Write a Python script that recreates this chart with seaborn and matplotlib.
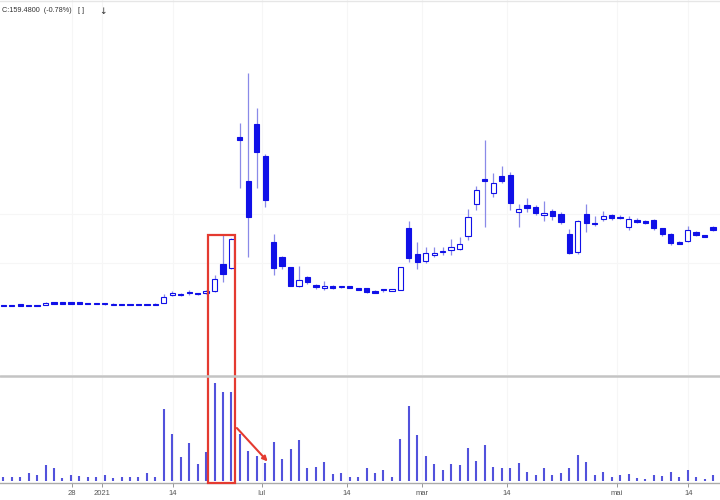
import numpy as np
import pandas as pd
import matplotlib
matplotlib.use("Agg")
import matplotlib.pyplot as plt
import seaborn as sns
from matplotlib.patches import Rectangle, FancyArrowPatch
from matplotlib.lines import Line2D

# ---------------- data ----------------
opens = [15.5, 15.3, 15.6, 15.6, 15.5, 15.6, 20.2, 20.0, 20.1, 20.0, 19.8, 19.6, 18.8, 15.6, 17.6,
         17.4, 17.3, 17.5, 17.6, 19.5, 36.5, 38.5, 41.5, 39.2, 39.2, 44.0, 98.0, 89.0, 355.0, 265.0,
         380.0, 316.0, 141.7, 112.7, 91.3, 53.6, 72.4, 56.3, 49.5, 53.5, 51.0, 52.7, 50.0, 48.9, 43.5,
         48.0, 44.5, 45.5, 170.0, 118.4, 104.6, 116.0, 121.5, 126.0, 129.0, 154.0, 219.0, 269.0, 242.0,
         275.3, 277.0, 204.0, 217.5, 213.5, 197.0, 205.4, 198.0, 158.4, 123.0, 198.0, 181.7, 188.1,
         197.0, 193.0, 172.0, 186.0, 184.0, 186.6, 170.0, 158.0, 143.0, 144.0, 163.0, 156.4, 173.0]
highs = [16.0, 15.8, 16.0, 16.0, 16.0, 20.5, 20.8, 20.6, 20.9, 20.5, 20.3, 20.1, 19.1, 19.2, 18.2,
         18.0, 17.8, 18.0, 18.4, 38.5, 43.0, 40.0, 45.5, 40.0, 44.8, 76.0, 156.0, 150.0, 382.0, 483.0,
         413.0, 321.0, 158.7, 113.5, 91.8, 94.0, 73.0, 57.5, 63.7, 56.0, 54.5, 53.5, 50.5, 49.5, 45.0,
         48.5, 47.0, 92.0, 185.0, 143.0, 133.0, 131.6, 133.0, 147.8, 153.0, 210.0, 255.0, 348.0, 281.0,
         296.0, 284.0, 219.0, 231.0, 218.0, 225.6, 210.0, 203.0, 168.0, 187.0, 219.0, 195.0, 205.0,
         199.0, 196.0, 195.0, 190.0, 186.0, 189.5, 171.0, 160.0, 144.5, 175.0, 165.0, 157.5, 174.0]
lows = [13.3, 13.4, 13.6, 13.2, 13.4, 15.4, 17.6, 17.8, 17.8, 17.6, 17.4, 17.0, 15.8, 14.8, 15.2,
        15.0, 15.0, 15.2, 15.4, 19.3, 34.0, 34.0, 36.5, 36.4, 38.5, 42.0, 62.0, 87.0, 251.0, 112.0,
        251.0, 213.0, 75.0, 87.0, 53.0, 51.0, 58.0, 47.0, 46.5, 48.0, 48.8, 49.0, 45.0, 40.5, 40.0,
        42.0, 43.0, 44.7, 102.6, 87.3, 100.6, 112.7, 116.0, 116.0, 126.0, 146.0, 208.0, 173.0, 234.0,
        261.0, 208.0, 173.0, 204.0, 197.5, 185.3, 187.6, 178.0, 118.0, 118.0, 163.0, 175.0, 185.0,
        187.7, 188.0, 166.0, 180.0, 178.0, 166.0, 155.0, 136.0, 137.5, 143.0, 155.0, 152.0, 165.0]
closes = [13.6, 13.6, 13.9, 13.6, 13.8, 19.2, 18.2, 18.0, 18.1, 17.9, 17.8, 17.4, 16.5, 18.0, 15.6,
          15.4, 15.3, 15.5, 15.8, 31.2, 39.9, 35.5, 39.4, 37.6, 43.0, 67.0, 78.0, 148.0, 348.0, 193.5,
          324.0, 227.0, 91.0, 94.0, 53.6, 65.0, 61.0, 52.3, 53.5, 49.8, 52.4, 49.5, 46.0, 42.0, 40.5,
          45.8, 46.0, 91.3, 109.5, 102.6, 121.0, 119.5, 125.0, 133.0, 138.0, 193.0, 247.0, 266.0, 261.0,
          265.0, 221.6, 209.5, 211.0, 201.4, 201.4, 195.3, 182.0, 120.8, 185.3, 180.0, 179.0, 195.0,
          191.4, 190.6, 188.0, 183.0, 180.0, 170.0, 158.4, 141.0, 139.0, 166.5, 156.4, 153.0, 166.5]
volumes = [7.3, 7.3, 8.5, 16.4, 11.9, 31.7, 26.4, 5.9, 11.9, 10.5, 8.5, 8.5, 11.9, 5.9, 7.3,
           7.3, 8.5, 15.2, 8.5, 142.6, 93.0, 47.5, 75.0, 33.7, 57.4, 194.7, 175.6, 175.6, 92.5, 58.8,
           50.0, 35.0, 77.8, 43.0, 62.8, 80.6, 26.3, 27.7, 37.0, 13.3, 15.8, 8.5, 8.5, 25.1, 16.4,
           21.8, 7.3, 83.2, 149.0, 91.0, 50.0, 33.7, 21.8, 33.0, 31.0, 64.7, 40.2, 71.3, 28.3,
           26.3, 25.1, 35.6, 17.2, 12.5, 25.1, 11.3, 15.2, 25.1, 50.9, 37.6, 11.3, 17.8,
           8.5, 11.3, 14.5, 5.9, 4.6, 11.3, 9.9, 17.8, 7.3, 22.4, 8.5, 4.6, 11.3]
tick_pos = [8.13, 11.65, 20.08, 30.58, 40.64, 49.55, 59.58, 72.6, 81.07]
tick_labels = ["28", "2021", "14", "Iul", "14", "mar", "14", "mai", "14"]
header = "C:159.4800  (-0.78%)"

n = len(closes)
df = pd.DataFrame({"idx": np.arange(n), "open": opens, "high": highs,
                   "low": lows, "close": closes, "vol": volumes})
df["up"] = df["close"] >= df["open"]

# ---------------- figure ----------------
sns.set_theme(style="white")
plt.rcParams["font.family"] = ["Liberation Sans", "DejaVu Sans"]

W, H = 720, 500
fig = plt.figure(figsize=(W / 100, H / 100), dpi=100)
fig.patch.set_facecolor("white")

def fx(px):
    return px / W

def fy(py):
    return 1 - py / H

ax_p = fig.add_axes([0, fy(375), 1, 375 / H])
ax_v = fig.add_axes([0, fy(483), 1, 106 / H])

xlim = (-0.39, 84.83)
blue = "#1010e8"
wick = "#8a8ae8"
volc = "#5252dc"
gridc = "#f6f6f6"

# price panel
ax_p.set_xlim(*xlim)
ax_p.set_ylim(-126, 631)
for gx in tick_pos:
    ax_p.axvline(gx, color=gridc, lw=0.8, zorder=0)
for gy in [100, 200]:
    ax_p.axhline(gy, color=gridc, lw=0.8, zorder=0)

ax_p.vlines(df["idx"], df["low"], df["high"], color=wick, lw=0.9, zorder=1)
body_bottom = np.minimum(df["open"], df["close"])
body_h = np.maximum(np.abs(df["close"] - df["open"]), 2.5)
faces = np.where(df["up"], "white", blue)
ax_p.bar(df["idx"], body_h, bottom=body_bottom, width=0.62,
         color=faces, edgecolor=blue, linewidth=0.8, zorder=2)
for s in ax_p.spines.values():
    s.set_visible(False)
ax_p.set_xticks([])
ax_p.set_yticks([])

# volume panel (seaborn draws the bars, then they are thinned to ~2 px sticks)
sns.barplot(data=df, x="idx", y="vol", native_scale=True, width=0.22,
            color=volc, saturation=1, errorbar=None, ax=ax_v, zorder=2,
            linewidth=0)
for p in ax_v.patches:
    p.set_visible(False)
ax_v.vlines(df["idx"], 0, df["vol"], color=volc, lw=1.5, zorder=2)
ax_v.set_xlim(*xlim)
ax_v.set_ylim(-4, 206)
for gx in tick_pos:
    ax_v.axvline(gx, color=gridc, lw=0.8, zorder=0)
ax_v.set_xticks(tick_pos)
ax_v.set_xticklabels(tick_labels, fontsize=5.5, color="#555555")
ax_v.tick_params(axis="x", length=3, width=0.6, color="#888888", pad=2, bottom=True)
ax_v.set_yticks([])
ax_v.set_xlabel("")
ax_v.set_ylabel("")
for k, s in ax_v.spines.items():
    s.set_visible(k == "bottom")
ax_v.spines["bottom"].set_color("#aaaaaa")
ax_v.spines["bottom"].set_linewidth(1.0)
ax_v.patch.set_alpha(0)

# separator and top line
fig.add_artist(Line2D([0, 1], [fy(376), fy(376)], transform=fig.transFigure,
                      color="#c4c4c4", lw=1.8))
fig.add_artist(Line2D([0, 1], [fy(1), fy(1)], transform=fig.transFigure,
                      color="#e6e6e6", lw=1.0))

# header
fig.text(fx(2), fy(11), header, fontsize=5.2, color="#333333", va="center", ha="left")
fig.text(fx(78), fy(11), "[ ]", fontsize=5.2, color="#333333", va="center", ha="left")
fig.text(fx(99), fy(11), "↓", fontsize=6.5, color="#333333", va="center", ha="left",
         family="DejaVu Sans")

# red annotations
red = "#e43a30"
fig.add_artist(Rectangle((fx(208.3), fy(482.7)), fx(235) - fx(208.3), fy(234.5) - fy(482.7),
                         transform=fig.transFigure, fill=False, edgecolor=red, lw=1.6))
fig.add_artist(FancyArrowPatch((fx(235), fy(426)), (fx(269.5), fy(463.5)),
                               transform=fig.transFigure, arrowstyle="-|>",
                               mutation_scale=7, color=red, lw=1.5))

fig.savefig("out.png", dpi=100)
